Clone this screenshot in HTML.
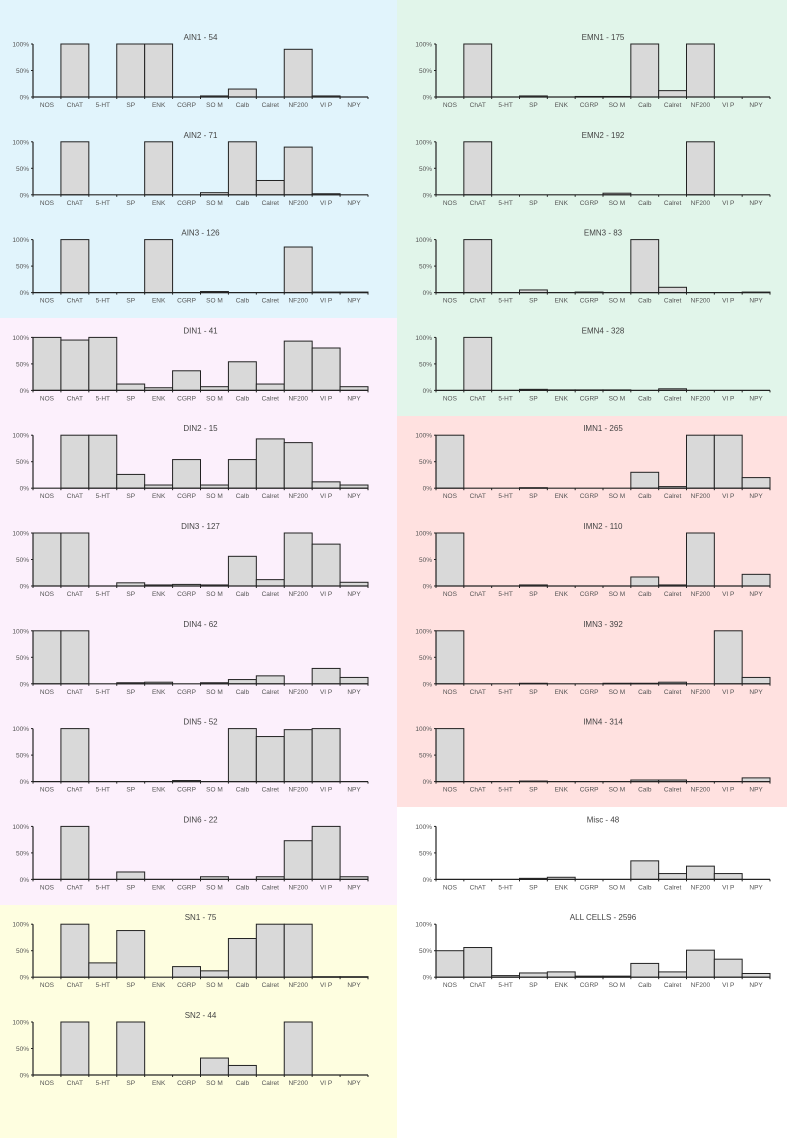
<!DOCTYPE html>
<html><head><meta charset="utf-8"><style>
body{margin:0;width:787px;height:1138px;overflow:hidden;background:#fff;font-family:"Liberation Sans",sans-serif}
svg{position:absolute;left:0;top:0}
</style></head><body>
<svg id="c" width="787" height="1138">
<rect x="0" y="0" width="397" height="318" fill="#e1f4fc"/>
<rect x="0" y="318" width="397" height="587" fill="#fcf0fc"/>
<rect x="0" y="905" width="397" height="233" fill="#fefee0"/>
<rect x="397" y="0" width="390" height="416" fill="#e1f5ea"/>
<rect x="397" y="416" width="390" height="391" fill="#ffe1e0"/>
</svg>
<script>
const categories=["NOS","ChAT","5-HT","SP","ENK","CGRP","SO M","Calb","Calret","NF200","VI P","NPY"];
const titles=["AIN1 - 54","AIN2 - 71","AIN3 - 126","DIN1 - 41","DIN2 - 15","DIN3 - 127","DIN4 - 62","DIN5 - 52","DIN6 - 22","SN1 - 75","SN2 - 44",
"EMN1 - 175","EMN2 - 192","EMN3 - 83","EMN4 - 328","IMN1 - 265","IMN2 - 110","IMN3 - 392","IMN4 - 314","Misc - 48","ALL CELLS - 2596"];
const AIN1=[0,100,0,100,100,0,2,15,0,90,2,0];
const AIN2=[0,100,0,0,100,0,4,100,27,90,2,0];
const AIN3=[0,100,0,0,100,0,2,0,0,86,1,1];
const DIN1=[100,95,100,12,5,37,7,54,12,93,80,7];
const DIN2=[0,100,100,26,6,54,6,54,93,86,12,6];
const DIN3=[100,100,0,6,2,3,2,56,12,100,79,7];
const DIN4=[100,100,0,2,3,0,2,8,15,0,29,12];
const DIN5=[0,100,0,0,0,2,0,100,85,98,100,0];
const DIN6=[0,100,0,14,0,0,5,0,5,73,100,5];
const SN1=[0,100,27,88,0,20,12,73,100,100,1,1];
const SN2=[0,100,0,100,0,0,32,18,0,100,0,0];
const EMN1=[0,100,0,2,0,1,1,100,12,100,0,0];
const EMN2=[0,100,0,0,0,0,3,0,0,100,0,0];
const EMN3=[0,100,0,5,0,1,0,100,10,0,0,1];
const EMN4=[0,100,0,2,1,1,1,0,3,0,0,0];
const IMN1=[100,0,0,1,0,0,0,30,3,100,100,20];
const IMN2=[100,0,0,2,0,0,0,17,2,100,0,22];
const IMN3=[100,0,0,1,0,0,1,1,3,0,100,12];
const IMN4=[100,0,0,1,0,0,0,3,3,0,0,7];
const MISC=[0,0,0,2,4,0,0,35,11,25,11,0];
const ALL=[50,56,3,8,10,2,2,26,10,51,34,7];
const series=[AIN1,AIN2,AIN3,DIN1,DIN2,DIN3,DIN4,DIN5,DIN6,SN1,SN2,EMN1,EMN2,EMN3,EMN4,IMN1,IMN2,IMN3,IMN4,MISC,ALL];
const yTicks=[0,50,100];
const NS="http://www.w3.org/2000/svg";
const svg=document.getElementById('c');
function mk(t,a,p){const e=document.createElementNS(NS,t);for(const k in a)e.setAttribute(k,a[k]);(p||svg).appendChild(e);return e;}
series.forEach((vals,i)=>{
  const left=i<11;
  const row=left?i:i-11;
  const x0=left?33:436, w=left?335:334;
  const base=97+row*97.8, H=53;
  const g=mk('g',{});
  
  
  const yS=v=>base-v/100*H;
  const bw=w/categories.length;
  const xS=k=>x0+k*bw;
  const t=mk('text',{x:x0+w/2,y:base-57,'font-size':8,'text-anchor':'middle',fill:'#444'},g);
  t.textContent=titles[i];
  
  
  vals.forEach((v,k)=>{
    if(v<=0)return;
    const r=mk('rect',{x:xS(k),y:yS(v),width:bw,height:base-yS(v),fill:'#d9d9d9',stroke:'#222','stroke-width':1},g);
    
    
  });
  mk('line',{x1:x0,y1:base,x2:x0+w,y2:base,stroke:'#222','stroke-width':1.2},g);
  mk('line',{x1:x0,y1:base,x2:x0,y2:base-H,stroke:'#222','stroke-width':1.2},g);
  yTicks.forEach(tv=>{
    mk('line',{x1:x0-2,y1:yS(tv),x2:x0,y2:yS(tv),stroke:'#222'},g);
    const l=mk('text',{x:x0-4,y:yS(tv)+2.5,'font-size':6.5,'text-anchor':'end',fill:'#555'},g);
    l.textContent=tv+'%';
    
    
  });
  categories.forEach((c,k)=>{
    mk('line',{x1:xS(k),y1:base,x2:xS(k),y2:base+2,stroke:'#222'},g);
    const l=mk('text',{x:xS(k)+bw/2,y:base+10,'font-size':6.5,'text-anchor':'middle',fill:'#555'},g);
    l.textContent=c;
    
    
  });
  mk('line',{x1:x0+w,y1:base,x2:x0+w,y2:base+2,stroke:'#222'},g);
});
</script>
</body></html>
